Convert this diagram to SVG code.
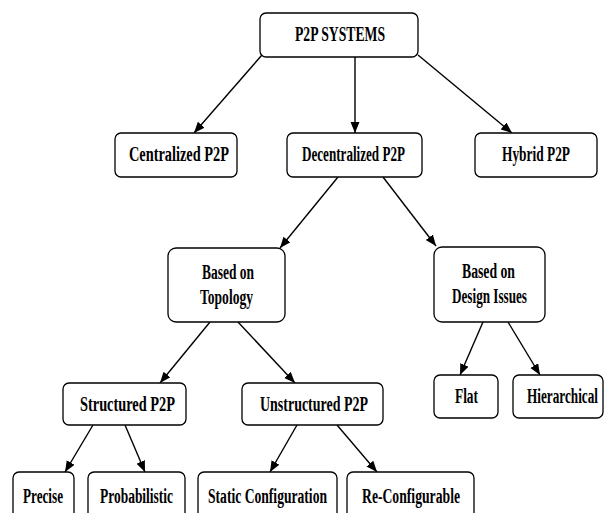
<svg xmlns="http://www.w3.org/2000/svg" width="605" height="513" viewBox="0 0 605 513">
  <style>
    .box { fill: #ffffff; stroke: #000000; stroke-width: 1.3; }
    .lbl { font-family: "Liberation Serif", "Times New Roman", serif; font-weight: bold; font-size: 20px; fill: #000000; text-anchor: start; }
    .edge { stroke: #000000; stroke-width: 1.4; fill: none; marker-end: url(#arrow); }
  </style>
  <defs>
    <marker id="arrow" markerUnits="userSpaceOnUse" markerWidth="12" markerHeight="10" refX="11" refY="4.5" orient="auto">
      <path d="M0,0 L11,4.5 L0,9 z" fill="#000000"/>
    </marker>
  </defs>
  <rect width="605" height="513" fill="#ffffff"/>

  <g id="connectors">
    <line class="edge" x1="262" y1="55" x2="194" y2="133"/>
    <line class="edge" x1="355" y1="57" x2="355" y2="133"/>
    <line class="edge" x1="418" y1="55" x2="512" y2="133"/>
    <line class="edge" x1="338" y1="177" x2="280" y2="248"/>
    <line class="edge" x1="383" y1="177" x2="436" y2="246"/>
    <line class="edge" x1="210" y1="322" x2="160" y2="383"/>
    <line class="edge" x1="238" y1="322" x2="295" y2="383"/>
    <line class="edge" x1="483" y1="322" x2="460" y2="375"/>
    <line class="edge" x1="508" y1="322" x2="540" y2="375"/>
    <line class="edge" x1="93" y1="425" x2="65" y2="472"/>
    <line class="edge" x1="125" y1="425" x2="145" y2="472"/>
    <line class="edge" x1="297" y1="425" x2="270" y2="472"/>
    <line class="edge" x1="337" y1="425" x2="377" y2="472"/>
  </g>

  <g id="p2p-systems">
    <rect class="box" x="260" y="13" width="158" height="44" rx="6"/>
    <text class="lbl" x="295" y="41" textLength="90" lengthAdjust="spacingAndGlyphs">P2P SYSTEMS</text>
  </g>
  <g id="centralized">
    <rect class="box" x="115" y="133" width="122" height="44" rx="6"/>
    <text class="lbl" x="129" y="161" textLength="100" lengthAdjust="spacingAndGlyphs">Centralized P2P</text>
  </g>
  <g id="decentralized">
    <rect class="box" x="287" y="133" width="135" height="44" rx="6"/>
    <text class="lbl" x="302" y="161" textLength="103" lengthAdjust="spacingAndGlyphs">Decentralized P2P</text>
  </g>
  <g id="hybrid">
    <rect class="box" x="475" y="133" width="122" height="44" rx="6"/>
    <text class="lbl" x="502" y="161" textLength="68" lengthAdjust="spacingAndGlyphs">Hybrid P2P</text>
  </g>
  <g id="topology">
    <rect class="box" x="168" y="248" width="117" height="74" rx="8"/>
    <text class="lbl" x="202" y="279" textLength="52" lengthAdjust="spacingAndGlyphs">Based on</text>
    <text class="lbl" x="200" y="304" textLength="53" lengthAdjust="spacingAndGlyphs">Topology</text>
  </g>
  <g id="design-issues">
    <rect class="box" x="434" y="247" width="111" height="75" rx="8"/>
    <text class="lbl" x="462" y="278" textLength="53" lengthAdjust="spacingAndGlyphs">Based on</text>
    <text class="lbl" x="452" y="303" textLength="75" lengthAdjust="spacingAndGlyphs">Design Issues</text>
  </g>
  <g id="structured">
    <rect class="box" x="63" y="383" width="123" height="42" rx="6"/>
    <text class="lbl" x="80" y="411" textLength="95" lengthAdjust="spacingAndGlyphs">Structured P2P</text>
  </g>
  <g id="unstructured">
    <rect class="box" x="242" y="383" width="141" height="42" rx="6"/>
    <text class="lbl" x="260" y="411" textLength="108" lengthAdjust="spacingAndGlyphs">Unstructured P2P</text>
  </g>
  <g id="flat">
    <rect class="box" x="434" y="375" width="64" height="43" rx="6"/>
    <text class="lbl" x="455" y="403" textLength="23" lengthAdjust="spacingAndGlyphs">Flat</text>
  </g>
  <g id="hierarchical">
    <rect class="box" x="513" y="375" width="90" height="43" rx="6"/>
    <text class="lbl" x="527" y="403" textLength="71" lengthAdjust="spacingAndGlyphs">Hierarchical</text>
  </g>
  <g id="precise">
    <rect class="box" x="13" y="472" width="61" height="48" rx="6"/>
    <text class="lbl" x="23" y="503" textLength="40" lengthAdjust="spacingAndGlyphs">Precise</text>
  </g>
  <g id="probabilistic">
    <rect class="box" x="88" y="472" width="97" height="48" rx="6"/>
    <text class="lbl" x="100" y="503" textLength="73" lengthAdjust="spacingAndGlyphs">Probabilistic</text>
  </g>
  <g id="static-configuration">
    <rect class="box" x="198" y="472" width="139" height="48" rx="6"/>
    <text class="lbl" x="208" y="503" textLength="119" lengthAdjust="spacingAndGlyphs">Static Configuration</text>
  </g>
  <g id="re-configurable">
    <rect class="box" x="347" y="472" width="127" height="48" rx="6"/>
    <text class="lbl" x="362" y="503" textLength="98" lengthAdjust="spacingAndGlyphs">Re-Configurable</text>
  </g>
</svg>
